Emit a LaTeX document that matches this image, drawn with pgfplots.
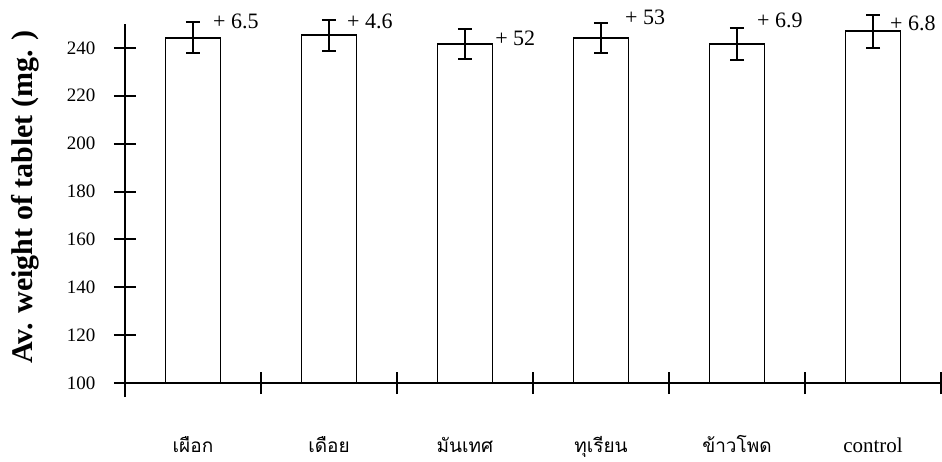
\documentclass[border=0pt]{standalone}
\usepackage{pgfplots}
\pgfplotsset{compat=1.18}
\usepackage{fontspec}
\setmainfont{Liberation Serif}
\newfontfamily\thaifont[Script=Thai]{Loma}
\begin{document}
\begin{tikzpicture}
\begin{axis}[
  scale only axis,
  width=816pt, height=383pt,
  xmin=-0.5, xmax=5.5,
  ymin=100, ymax=260,
  axis x line*=bottom, axis y line*=left,
  axis line style={draw=none},
  ybar, bar width=55pt,
  ytick={100,120,...,240},
  xtick={0.5,1.5,...,5.5},
  xticklabels={},
  extra x ticks={0,1,2,3,4,5},
  extra x tick labels={{\thaifont เผือก},{\thaifont เดือย},{\thaifont มันเทศ},{\thaifont ทุเรียน},{\thaifont ข้าวโพด},{\fontsize{21}{21}\selectfont control}},
  extra x tick style={major tick length=0pt, tick style={draw=none}},
  tick align=center,
  major tick length=22pt,
  tick style={line width=2pt, black},
  /pgf/number format/assume math mode=true,
  yticklabel style={font=\fontsize{19}{19}\selectfont, xshift=-15pt},
  xticklabel style={font=\fontsize{19}{19}\selectfont, anchor=base, yshift=-69pt},
  ylabel={\textbf{Av. weight of tablet (mg. )}},
  ylabel style={font=\fontsize{30}{30}\selectfont, at={(axis description cs:-0.1225,0.486)}, anchor=center},
  clip mode=individual,
]
\addplot[draw=black, fill=white, line width=1.8pt,
  error bars/.cd, y dir=both, y explicit,
  error bar style={line width=2pt, black},
  error mark options={rotate=90, mark size=7pt, line width=2pt, black}]
  coordinates {
    (0,244.2) +- (0,6.5)
    (1,245.3) +- (0,6.5)
    (2,241.6) +- (0,6.4)
    (3,244.2) +- (0,6.25)
    (4,241.5) +- (0,6.6)
    (5,246.9) +- (0,6.9)
  };
\coordinate (O) at (axis cs:-0.5,100);
\coordinate (YT) at (axis cs:-0.5,250);
\coordinate (XR) at (axis cs:5.5,100);
\begin{scope}[font=\fontsize{22}{22}\selectfont]
\node[anchor=west, inner sep=0pt] at (axis cs:0.147,250.9) {+ 6.5};
\node[anchor=west, inner sep=0pt] at (axis cs:1.132,251.05) {+ 4.6};
\node[anchor=west, inner sep=0pt] at (axis cs:2.221,244.15) {+ 52};
\node[anchor=west, inner sep=0pt] at (axis cs:3.176,252.7) {+ 53};
\node[anchor=west, inner sep=0pt] at (axis cs:4.147,251.3) {+ 6.9};
\node[anchor=west, inner sep=0pt] at (axis cs:5.125,250.4) {+ 6.8};
\end{scope}
\end{axis}
\draw[line width=2pt] ([yshift=-14pt]O) -- (YT);
\draw[line width=2pt] ([xshift=-10pt]O) -- (XR);
\pgfresetboundingbox
\path[use as bounding box] ([shift={(-125pt,-78pt)}]O) rectangle ([shift={(817pt,383pt)}]O);
\end{tikzpicture}
\end{document}
